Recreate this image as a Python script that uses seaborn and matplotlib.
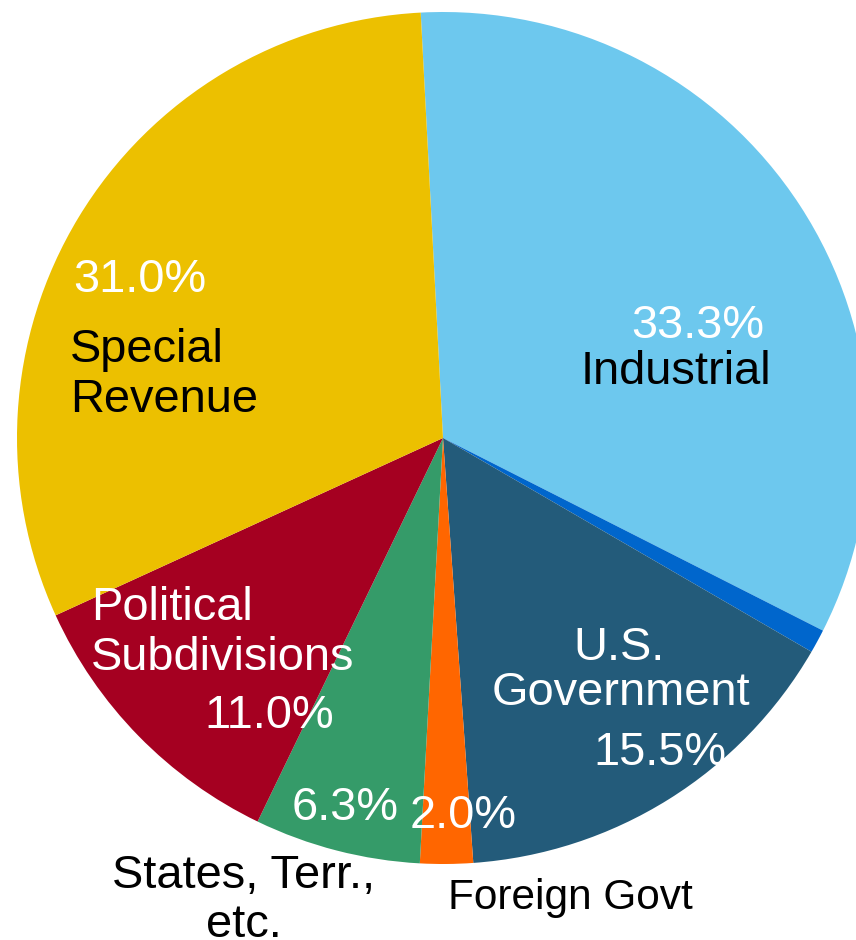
import matplotlib
matplotlib.use("Agg")
import matplotlib.pyplot as plt
import seaborn as sns

# Share of holdings by issuer type (percent), clockwise from the top
categories = ["Industrial", "Other", "U.S. Government", "Foreign Govt",
              "States, Terr., etc.", "Political Subdivisions", "Special Revenue"]
shares = [33.3, 0.9, 15.5, 2.0, 6.3, 11.0, 31.0]
slice_colors = ["#6DC8EE", "#0066CC", "#235B7A", "#FF6600",
                "#359B69", "#A50021", "#ECC000"]

sns.set_theme(style="white")
plt.rcParams["font.family"] = ["Liberation Sans", "DejaVu Sans"]

W, H = 856, 940
fig = plt.figure(figsize=(W / 100, H / 100), dpi=100)
ax = fig.add_axes([0, 0, 1, 1])

# Pie laid out in a pixel-sized coordinate frame (origin bottom-left)
cx, cy, r = 443, H - 438, 426
ax.pie(shares, colors=sns.color_palette(slice_colors), startangle=93.0,
       counterclock=False, radius=r, center=(cx, cy),
       wedgeprops=dict(linewidth=0))
ax.set_xlim(0, W)
ax.set_ylim(0, H)
ax.set_aspect("equal")
ax.axis("off")

FS = 33.8


def put(text, x, y_top, color, ha="center", size=FS):
    # y_top is the baseline measured from the top edge of the figure
    ax.text(x, H - y_top, text, color=color, ha=ha, va="baseline",
            fontsize=size)


pct = {c: f"{v:.1f}%" for c, v in zip(categories, shares)}

# Industrial
put(pct["Industrial"], 698, 338, "white")
put("Industrial", 676, 384, "black")

# Special Revenue
put(pct["Special Revenue"], 140, 292, "white")
put("Special", 70, 362, "black", ha="left")
put("Revenue", 70, 412, "black", ha="left")

# Political Subdivisions
put("Political", 91, 620, "white", ha="left")
put("Subdivisions", 91, 670, "white", ha="left")
put(pct["Political Subdivisions"], 269, 728, "white")

# U.S. Government
put("U.S.", 619, 660, "white")
put("Government", 621, 705, "white")
put(pct["U.S. Government"], 660, 765, "white")

# States, Terr., etc.
put(pct["States, Terr., etc."], 345, 820, "white")
put("States, Terr.,", 244, 888, "black")
put("etc.", 244, 937, "black")

# Foreign Govt
put(pct["Foreign Govt"], 463, 828, "white")
put("Foreign Govt", 570, 909, "black", size=30.5)

fig.savefig("out.png", dpi=100)
